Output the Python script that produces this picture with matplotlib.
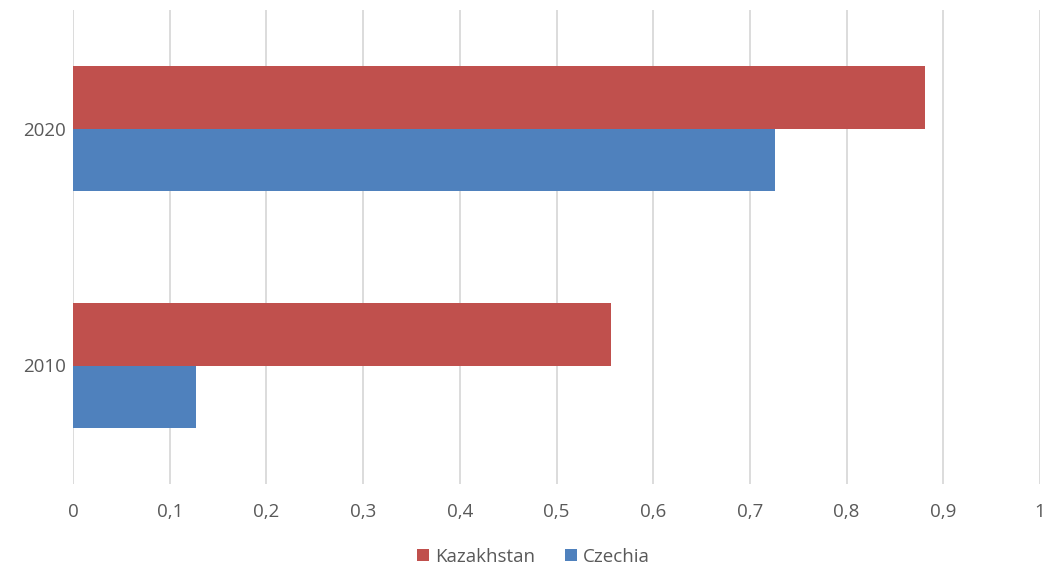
import matplotlib.pyplot as plt
import numpy as np

years = ["2010", "2020"]
kazakhstan = [0.556, 0.881]
czechia = [0.127, 0.726]
xticks = [0, 0.1, 0.2, 0.3, 0.4, 0.5, 0.6, 0.7, 0.8, 0.9, 1]
xtick_labels = ["0", "0,1", "0,2", "0,3", "0,4", "0,5", "0,6", "0,7", "0,8", "0,9", "1"]

red = "#C0504D"
blue = "#4F81BD"
text_col = "#595959"

plt.rcParams['font.family'] = ['Open Sans', 'DejaVu Sans']

fig = plt.figure(figsize=(10.46, 5.69), dpi=100)
ax = fig.add_axes([73 / 1046, 1 - 484 / 569, 967 / 1046, 474 / 569])

y = np.arange(len(years))
h = 0.262
ax.barh(y + h / 2, kazakhstan, height=h, color=red, label="Kazakhstan", zorder=3)
ax.barh(y - h / 2, czechia, height=h, color=blue, label="Czechia", zorder=3)

ax.set_xlim(0, 1)
ax.set_ylim(-0.5, 1.5)
ax.set_xticks(xticks)
ax.set_xticklabels(xtick_labels)
ax.set_yticks(y)
ax.set_yticklabels(years)
ax.grid(axis='x', color="#D9D9D9", linewidth=1.3, zorder=0)
for s in ax.spines.values():
    s.set_visible(False)
ax.tick_params(axis='both', length=0, labelsize=13.5, labelcolor=text_col)
ax.tick_params(axis='x', pad=14)
ax.tick_params(axis='y', pad=5)

leg = fig.legend(loc='lower center', bbox_to_anchor=(0.51, -0.024), ncol=2, frameon=False,
                 fontsize=13.5, handlelength=0.65, handleheight=0.65, handletextpad=0.3,
                 columnspacing=1.6, labelcolor=text_col)

fig.savefig("out.png", dpi=100)
